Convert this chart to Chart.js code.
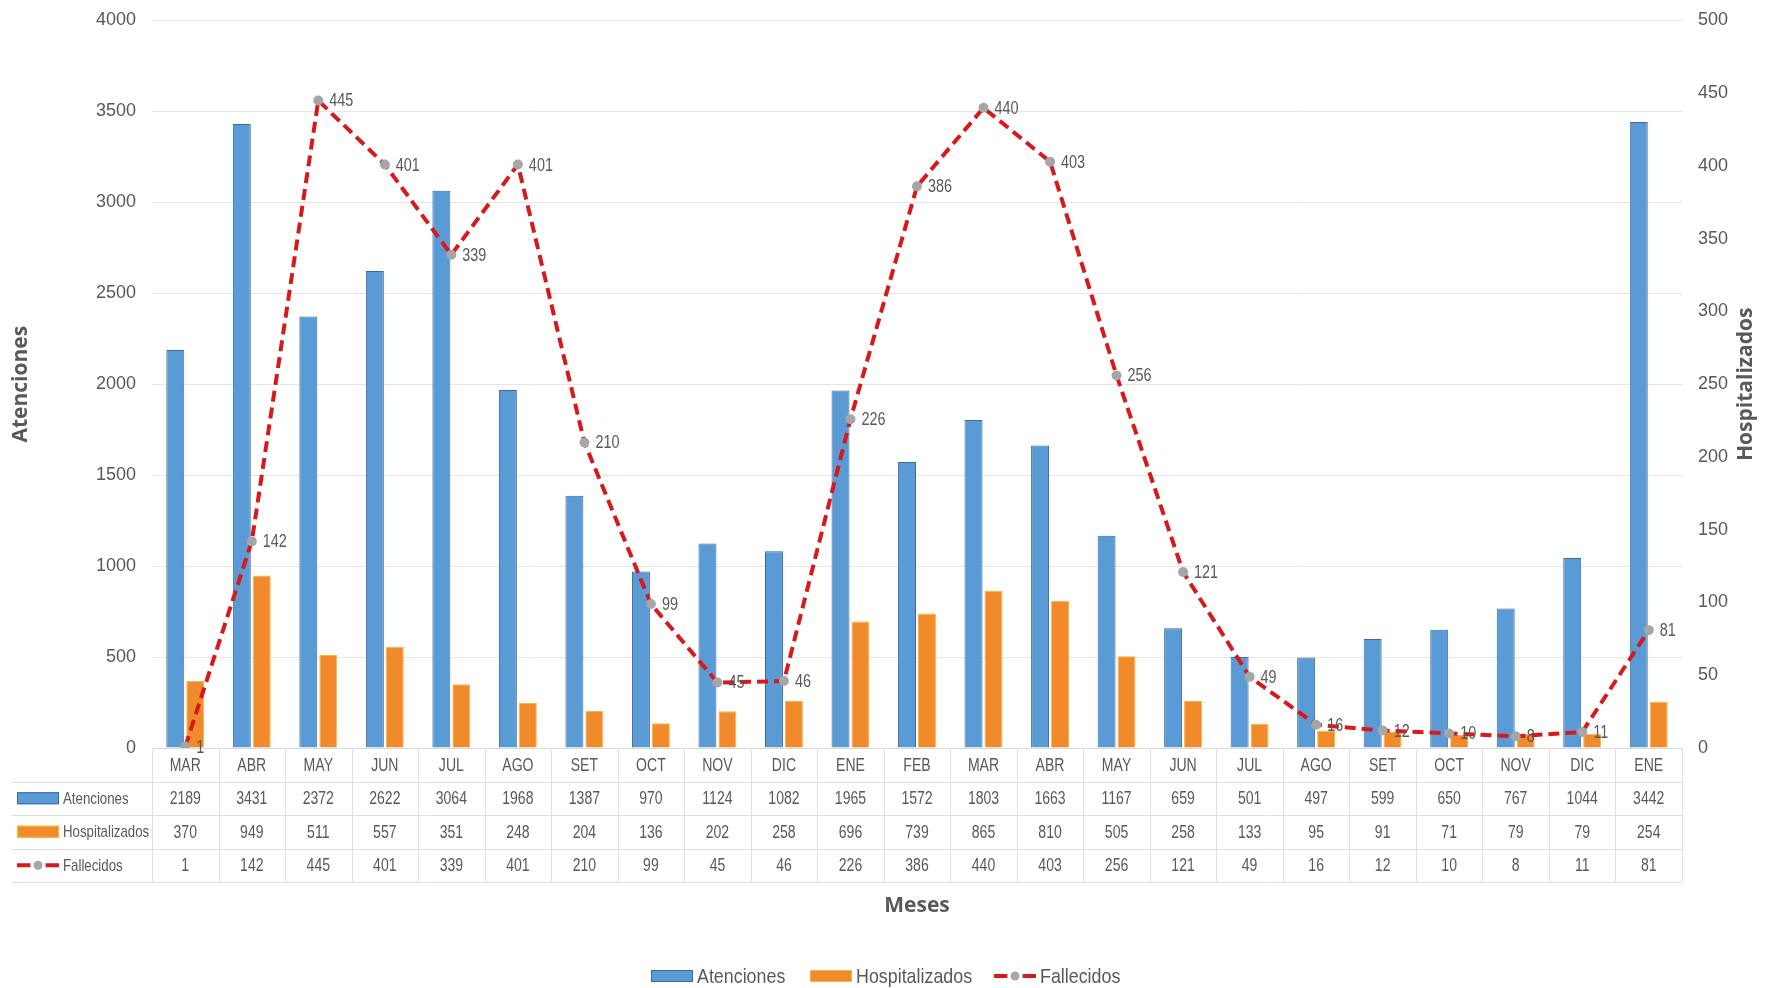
<!DOCTYPE html>
<html>
<head>
<meta charset="utf-8">
<script src="https://cdn.jsdelivr.net/npm/chart.js@4/dist/chart.umd.min.js"></script>
<style>
  html, body { margin: 0; padding: 0; background: #fff; }
  #wrap { width: 1765px; height: 988px; }
</style>
</head>
<body>
<div id="wrap"><canvas id="myChart" width="1765" height="988"></canvas></div>
<script>
var meses = ['MAR','ABR','MAY','JUN','JUL','AGO','SET','OCT','NOV','DIC','ENE','FEB','MAR','ABR','MAY','JUN','JUL','AGO','SET','OCT','NOV','DIC','ENE'];
var atenciones = [2189,3431,2372,2622,3064,1968,1387,970,1124,1082,1965,1572,1803,1663,1167,659,501,497,599,650,767,1044,3442];
var hospitalizados = [370,949,511,557,351,248,204,136,202,258,696,739,865,810,505,258,133,95,91,71,79,79,254];
var fallecidos = [1,142,445,401,339,401,210,99,45,46,226,386,440,403,256,121,49,16,12,10,8,11,81];

var leftMax = 4000, leftStep = 500;
var rightMax = 500, rightStep = 50;

var SANS = "'Liberation Sans', Arial, sans-serif";
var BOLD = "'Open Sans', 'DejaVu Sans', sans-serif";
var GRAY = '#595959';
var BLUE = '#5b9bd5', BLUE_B = '#3b6b9e';
var ORANGE = '#f08a2a', ORANGE_B = '#f7b53f';
var RED = '#d7191c', DOT = '#a6a6a6';

// text squeezed sideways, the source picture is a bit compressed
function narrowText(ctx, txt, x, y, align, size, sx) {
  ctx.save();
  ctx.font = size + 'px ' + SANS;
  ctx.textAlign = align;
  ctx.textBaseline = 'middle';
  ctx.translate(x, y);
  ctx.scale(sx, 1);
  ctx.fillText(txt, 0, 0);
  ctx.restore();
}

// draws the little key used in the table and in the legend
function drawKey(ctx, idx, x, y, w) {
  ctx.save();
  if (idx === 0 || idx === 1) {
    ctx.fillStyle = idx === 0 ? BLUE : ORANGE;
    ctx.strokeStyle = idx === 0 ? BLUE_B : ORANGE_B;
    ctx.lineWidth = 1;
    ctx.fillRect(x, y - 6, w, 12);
    ctx.strokeRect(x + 0.5, y - 5.5, w - 1, 11);
  } else {
    ctx.strokeStyle = RED;
    ctx.lineWidth = 4;
    ctx.beginPath();
    ctx.moveTo(x, y); ctx.lineTo(x + w * 0.32, y);
    ctx.moveTo(x + w * 0.68, y); ctx.lineTo(x + w, y);
    ctx.stroke();
    ctx.fillStyle = DOT;
    ctx.beginPath();
    ctx.arc(x + w / 2, y, 4.5, 0, Math.PI * 2);
    ctx.fill();
  }
  ctx.restore();
}

var extras = {
  id: 'extras',
  afterDatasetsDraw: function(chart) {
    var ctx = chart.ctx;
    // labels next to the Fallecidos points
    var meta = chart.getDatasetMeta(2);
    ctx.save();
    ctx.fillStyle = GRAY;
    meta.data.forEach(function(pt, i) {
      narrowText(ctx, String(fallecidos[i]), pt.x + 11, pt.y + 1, 'left', 18, 0.8);
    });
    ctx.restore();
  },
  afterDraw: function(chart) {
    var ctx = chart.ctx;
    var area = chart.chartArea;
    var xs = chart.scales.x;
    var n = meses.length;
    var colW = (area.right - area.left) / n;
    var top = area.bottom, rowH = 33.5;

    ctx.save();
    ctx.strokeStyle = '#e0e0e0';
    ctx.lineWidth = 1;
    // horizontal lines of the data table
    for (var r = 1; r <= 4; r++) {
      var yy = Math.round(top + r * rowH) + 0.5;
      ctx.beginPath(); ctx.moveTo(12, yy); ctx.lineTo(area.right, yy); ctx.stroke();
    }
    // vertical lines
    for (var c = 0; c <= n; c++) {
      var xx = Math.round(area.left + c * colW) + 0.5;
      ctx.beginPath(); ctx.moveTo(xx, top); ctx.lineTo(xx, top + 4 * rowH); ctx.stroke();
    }

    ctx.fillStyle = GRAY;
    var rows = [meses, atenciones, hospitalizados, fallecidos];
    rows.forEach(function(row, r) {
      var cy = top + r * rowH + rowH / 2 + 1;
      row.forEach(function(v, i) {
        narrowText(ctx, String(v), xs.getPixelForValue(i), cy, 'center', 18, 0.78);
      });
    });

    // series keys inside the table
    var names = ['Atenciones', 'Hospitalizados', 'Fallecidos'];
    names.forEach(function(nm, i) {
      var cy = top + (i + 1) * rowH + rowH / 2;
      drawKey(ctx, i, 17, cy, 42);
      ctx.fillStyle = GRAY;
      narrowText(ctx, nm, 63, cy + 1, 'left', 17, 0.78);
    });

    // axis titles
    ctx.fillStyle = GRAY;
    ctx.font = 'bold 21px ' + BOLD;
    ctx.textAlign = 'center';
    ctx.textBaseline = 'middle';
    ctx.fillText('Meses', (area.left + area.right) / 2, 906);
    var midY = (area.top + area.bottom) / 2;
    ctx.save();
    ctx.translate(21, midY); ctx.rotate(-Math.PI / 2);
    ctx.fillText('Atenciones', 0, 0);
    ctx.restore();
    ctx.save();
    ctx.translate(1746, midY); ctx.rotate(-Math.PI / 2);
    ctx.fillText('Hospitalizados', 0, 0);
    ctx.restore();

    // legend at the bottom
    var lx = [651, 810, 994];
    names.forEach(function(nm, i) {
      drawKey(ctx, i, lx[i], 976, 42);
      ctx.fillStyle = GRAY;
      narrowText(ctx, nm, lx[i] + 46, 977, 'left', 21, 0.85);
    });
    ctx.restore();
  }
};

// small lineHeight keeps chart.js from adding extra room above the top tick
var tickFont = { size: 18, family: SANS, lineHeight: 0.5 };
function plain(v) { return String(v); }

var ctx = document.getElementById('myChart');
var myChart = new Chart(ctx, {
  data: {
    labels: meses,
    datasets: [{
      type: 'bar',
      label: 'Atenciones',
      data: atenciones,
      yAxisID: 'y',
      backgroundColor: BLUE,
      borderColor: BLUE_B,
      borderWidth: 1,
      barPercentage: 0.9,
      categoryPercentage: 0.6,
      order: 1
    }, {
      type: 'bar',
      label: 'Hospitalizados',
      data: hospitalizados,
      yAxisID: 'y',
      backgroundColor: ORANGE,
      borderColor: ORANGE_B,
      borderWidth: 1,
      barPercentage: 0.9,
      categoryPercentage: 0.6,
      order: 1
    }, {
      type: 'line',
      label: 'Fallecidos',
      data: fallecidos,
      yAxisID: 'y1',
      borderColor: RED,
      borderWidth: 4,
      borderDash: [11, 6],
      pointRadius: 5,
      pointBackgroundColor: DOT,
      pointBorderColor: DOT,
      pointBorderWidth: 0,
      tension: 0,
      order: 0
    }]
  },
  options: {
    responsive: false,
    maintainAspectRatio: false,
    animation: false,
    layout: { padding: { top: 0, left: 0, right: 0, bottom: 0 } },
    plugins: { legend: { display: false }, tooltip: { enabled: false } },
    scales: {
      x: {
        ticks: { display: false },
        grid: { display: false },
        border: { color: '#d9d9d9' },
        afterFit: function(s) { s.height = 240; }
      },
      y: {
        position: 'left',
        min: 0, max: leftMax,
        ticks: { stepSize: leftStep, color: GRAY, font: tickFont, padding: 16, callback: plain },
        grid: { color: '#e6e6e6', drawTicks: false },
        border: { display: false },
        afterFit: function(s) { s.width = 152; }
      },
      y1: {
        position: 'right',
        min: 0, max: rightMax,
        ticks: { stepSize: rightStep, color: GRAY, font: tickFont, padding: 16, callback: plain },
        grid: { display: false, drawTicks: false },
        border: { display: false },
        afterFit: function(s) { s.width = 83; }
      }
    }
  },
  plugins: [extras]
});
</script>
</body>
</html>
